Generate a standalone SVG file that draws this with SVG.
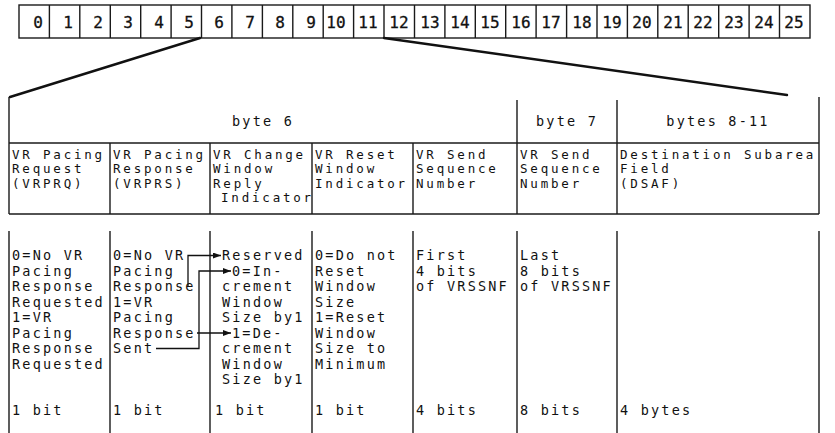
<svg xmlns="http://www.w3.org/2000/svg" width="835" height="433" viewBox="0 0 835 433">
  <style>
    .bg { fill: #ffffff; }
    .box { fill: none; stroke: #1a1a1a; stroke-width: 1.4; }
    .rule { fill: none; stroke: #1a1a1a; stroke-width: 1.4; }
    .zoom { fill: none; stroke: #111; stroke-width: 2.4; stroke-linecap: round; }
    .link { fill: none; stroke: #111; stroke-width: 1.3; }
    .num { font-family: "DejaVu Sans Mono", "Liberation Mono", monospace; font-size: 16px; fill: #111; stroke: #111; stroke-width: 0.3; }
    .t { font-family: "DejaVu Sans Mono", "Liberation Mono", monospace; font-size: 13.5px; letter-spacing: 2.2px; fill: #111; }
    .f { font-size: 12.5px; letter-spacing: 2.8px; }
    .c { text-anchor: middle; }
  </style>
  <defs>
    <marker id="arrow" markerWidth="8" markerHeight="6" refX="8" refY="3" orient="auto" markerUnits="userSpaceOnUse">
      <path d="M0,0 L8,3 L0,6 Z" fill="#111"/>
    </marker>
  </defs>

  <rect class="bg" x="0" y="0" width="835" height="433"/>

  <!-- Byte strip 0..25 -->
  <g id="byte-strip">
    <rect class="box" x="19" y="5" width="791" height="33"/>
    <path class="box" d="M49.4,5V38 M79.8,5V38 M110.3,5V38 M140.7,5V38 M171.1,5V38 M201.5,5V38 M231.9,5V38 M262.4,5V38 M292.8,5V38 M323.2,5V38 M353.6,5V38 M384,5V38 M414.5,5V38 M444.9,5V38 M475.3,5V38 M505.7,5V38 M536.1,5V38 M566.6,5V38 M597,5V38 M627.4,5V38 M657.8,5V38 M688.2,5V38 M718.7,5V38 M749.1,5V38 M779.5,5V38"/>
    <g class="num" text-anchor="end">
      <text x="43" y="28">0</text>
      <text x="73" y="28">1</text>
      <text x="103" y="28">2</text>
      <text x="133" y="28">3</text>
      <text x="164" y="28">4</text>
      <text x="194" y="28">5</text>
      <text x="224" y="28">6</text>
      <text x="255" y="28">7</text>
      <text x="285" y="28">8</text>
      <text x="316" y="28">9</text>
    </g>
    <g class="num" text-anchor="middle">
      <text x="336" y="28">10</text>
      <text x="368" y="28">11</text>
      <text x="399" y="28">12</text>
      <text x="430" y="28">13</text>
      <text x="460" y="28">14</text>
      <text x="490" y="28">15</text>
      <text x="521" y="28">16</text>
      <text x="551" y="28">17</text>
      <text x="582" y="28">18</text>
      <text x="612" y="28">19</text>
      <text x="642" y="28">20</text>
      <text x="673" y="28">21</text>
      <text x="703" y="28">22</text>
      <text x="734" y="28">23</text>
      <text x="764" y="28">24</text>
      <text x="794" y="28">25</text>
    </g>
  </g>

  <!-- Table frame: header row, field-name row, value row -->
  <g id="table-frame">
    <!-- header row -->
    <path class="rule" d="M9,97V214 M819,97V214 M517,100V143 M617,100V143"/>
    <path class="rule" d="M9,143H819"/>
    <!-- field-name row -->
    <path class="rule" d="M110,143V214 M210,143V214 M312,143V214 M413,143V214 M517,143V214 M617,143V214"/>
    <path class="rule" d="M9,214H819"/>
    <!-- value row -->
    <path class="rule" d="M9,231V433 M110,231V433 M210,231V433 M312,231V433 M413,231V433 M517,231V433 M617,231V433 M819,231V433"/>
  </g>

  <g id="headers">
    <text class="t c" x="263" y="126">byte 6</text>
    <text class="t c" x="567" y="126">byte 7</text>
    <text class="t c" x="718" y="126">bytes 8-11</text>
  </g>

  <g id="vrprq">
    <text class="t f" x="12" y="158.5">VR Pacing</text>
    <text class="t f" x="12" y="173">Request</text>
    <text class="t f" x="12" y="187.5">(VRPRQ)</text>
    <text class="t" x="12" y="260">0=No VR</text>
    <text class="t" x="12" y="275.5">Pacing</text>
    <text class="t" x="12" y="291">Response</text>
    <text class="t" x="12" y="306.5">Requested</text>
    <text class="t" x="12" y="322">1=VR</text>
    <text class="t" x="12" y="337.5">Pacing</text>
    <text class="t" x="12" y="353">Response</text>
    <text class="t" x="12" y="368.5">Requested</text>
    <text class="t" x="12" y="415">1 bit</text>
  </g>

  <g id="vrprs">
    <text class="t f" x="113" y="158.5">VR Pacing</text>
    <text class="t f" x="113" y="173">Response</text>
    <text class="t f" x="113" y="187.5">(VRPRS)</text>
    <text class="t" x="113" y="260">0=No VR</text>
    <text class="t" x="113" y="275.5">Pacing</text>
    <text class="t" x="113" y="291">Response</text>
    <text class="t" x="113" y="306.5">1=VR</text>
    <text class="t" x="113" y="322">Pacing</text>
    <text class="t" x="113" y="337.5">Response</text>
    <text class="t" x="113" y="353">Sent</text>
    <text class="t" x="113" y="415">1 bit</text>
  </g>

  <g id="vrcwri">
    <text class="t f" x="213" y="158.5">VR Change</text>
    <text class="t f" x="213" y="173">Window</text>
    <text class="t f" x="213" y="187.5">Reply</text>
    <text class="t f" x="221" y="202">Indicator</text>
    <text class="t" x="222" y="260">Reserved</text>
    <text class="t" x="232" y="275.5">0=In-</text>
    <text class="t" x="222" y="291">crement</text>
    <text class="t" x="222" y="306.5">Window</text>
    <text class="t" x="222" y="322">Size by1</text>
    <text class="t" x="232" y="337.5">1=De-</text>
    <text class="t" x="222" y="353">crement</text>
    <text class="t" x="222" y="368.5">Window</text>
    <text class="t" x="222" y="384">Size by1</text>
    <text class="t" x="215" y="415">1 bit</text>
  </g>

  <g id="vrrwi">
    <text class="t f" x="315" y="158.5">VR Reset</text>
    <text class="t f" x="315" y="173">Window</text>
    <text class="t f" x="315" y="187.5">Indicator</text>
    <text class="t" x="315" y="260">0=Do not</text>
    <text class="t" x="315" y="275.5">Reset</text>
    <text class="t" x="315" y="291">Window</text>
    <text class="t" x="315" y="306.5">Size</text>
    <text class="t" x="315" y="322">1=Reset</text>
    <text class="t" x="315" y="337.5">Window</text>
    <text class="t" x="315" y="353">Size to</text>
    <text class="t" x="315" y="368.5">Minimum</text>
    <text class="t" x="315" y="415">1 bit</text>
  </g>

  <g id="vrsnf-high">
    <text class="t f" x="416" y="158.5">VR Send</text>
    <text class="t f" x="416" y="173">Sequence</text>
    <text class="t f" x="416" y="187.5">Number</text>
    <text class="t" x="416" y="260">First</text>
    <text class="t" x="416" y="275.5">4 bits</text>
    <text class="t" x="416" y="291">of VRSSNF</text>
    <text class="t" x="416" y="415">4 bits</text>
  </g>

  <g id="vrsnf-low">
    <text class="t f" x="520" y="158.5">VR Send</text>
    <text class="t f" x="520" y="173">Sequence</text>
    <text class="t f" x="520" y="187.5">Number</text>
    <text class="t" x="520" y="260">Last</text>
    <text class="t" x="520" y="275.5">8 bits</text>
    <text class="t" x="520" y="291">of VRSSNF</text>
    <text class="t" x="520" y="415">8 bits</text>
  </g>

  <g id="dsaf">
    <text class="t f" x="620" y="158.5">Destination Subarea</text>
    <text class="t f" x="620" y="173">Field</text>
    <text class="t f" x="620" y="187.5">(DSAF)</text>
    <text class="t" x="620" y="415">4 bytes</text>
  </g>

  <g id="connectors">
    <!-- expansion lines from the strip to the field layout -->
    <path class="zoom" d="M200,38 L10,97"/>
    <path class="zoom" d="M384,38 L787,95"/>
    <!-- value cross-references -->
    <path class="link" d="M188,286 V255.5 H221" marker-end="url(#arrow)"/>
    <path class="link" d="M156,348.5 H199 V271 H231" marker-end="url(#arrow)"/>
    <path class="link" d="M197,333 H231" marker-end="url(#arrow)"/>
  </g>
</svg>
